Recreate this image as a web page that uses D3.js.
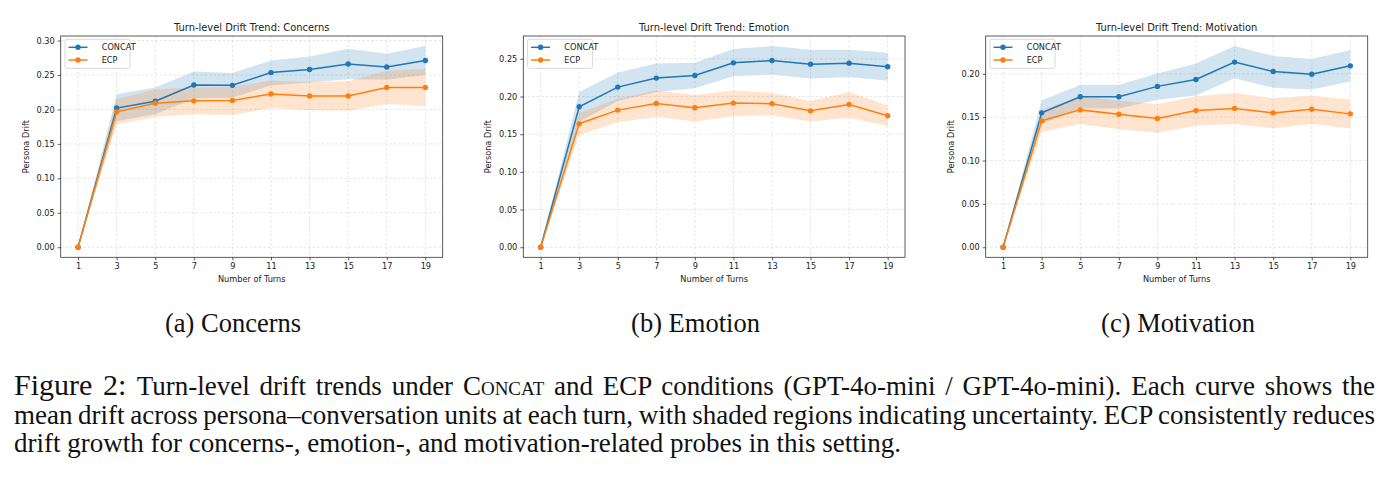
<!DOCTYPE html>
<html>
<head>
<meta charset="utf-8">
<script src="https://cdn.jsdelivr.net/npm/d3@7"></script>
<style>
  html, body { margin: 0; padding: 0; background: #fff; }
  svg { display: block; }
</style>
</head>
<body>
<svg id="chart" width="1392" height="477"></svg>
<script>
// ---------------- DATA ----------------
const turns = [1, 3, 5, 7, 9, 11, 13, 15, 17, 19];
const xTickLabels = ["1", "3", "5", "7", "9", "11", "13", "15", "17", "19"];
const seriesNames = ["CONCAT", "ECP"];
const panelTitles = ["Turn-level Drift Trend: Concerns", "Turn-level Drift Trend: Emotion", "Turn-level Drift Trend: Motivation"];
const subCaptions = ["(a) Concerns", "(b) Emotion", "(c) Motivation"];
const yTickValues = [
  [0, 0.05, 0.10, 0.15, 0.20, 0.25, 0.30],
  [0, 0.05, 0.10, 0.15, 0.20, 0.25],
  [0, 0.05, 0.10, 0.15, 0.20]
];

// Concerns
const concernsConcat     = [0, 0.202, 0.212, 0.2355, 0.235, 0.2535, 0.258, 0.266, 0.2615, 0.271];
const concernsConcatLow  = [0, 0.183, 0.193, 0.216, 0.217, 0.235, 0.239, 0.244, 0.243, 0.250];
const concernsConcatHigh = [0, 0.222, 0.232, 0.255, 0.253, 0.271, 0.277, 0.288, 0.281, 0.292];
const concernsEcp        = [0, 0.1965, 0.209, 0.2125, 0.213, 0.2225, 0.2195, 0.2195, 0.232, 0.232];
const concernsEcpLow     = [0, 0.178, 0.189, 0.193, 0.192, 0.202, 0.199, 0.198, 0.208, 0.205];
const concernsEcpHigh    = [0, 0.215, 0.229, 0.232, 0.233, 0.242, 0.240, 0.241, 0.256, 0.259];

// Emotion
const emotionConcat      = [0, 0.1865, 0.2125, 0.2245, 0.228, 0.2447, 0.2478, 0.243, 0.2443, 0.2395];
const emotionConcatLow   = [0, 0.167, 0.194, 0.206, 0.211, 0.227, 0.229, 0.224, 0.226, 0.221];
const emotionConcatHigh  = [0, 0.206, 0.232, 0.244, 0.245, 0.263, 0.267, 0.262, 0.262, 0.258];
const emotionEcp         = [0, 0.164, 0.182, 0.1908, 0.1852, 0.1913, 0.1905, 0.181, 0.1895, 0.1745];
const emotionEcpLow      = [0, 0.149, 0.166, 0.173, 0.167, 0.174, 0.175, 0.167, 0.172, 0.161];
const emotionEcpHigh     = [0, 0.178, 0.197, 0.208, 0.202, 0.208, 0.205, 0.194, 0.206, 0.188];

// Motivation
const motivationConcat     = [0, 0.155, 0.1735, 0.1735, 0.1855, 0.1935, 0.2135, 0.2027, 0.1996, 0.2092];
const motivationConcatLow  = [0, 0.142, 0.160, 0.160, 0.170, 0.175, 0.195, 0.184, 0.182, 0.191];
const motivationConcatHigh = [0, 0.1696, 0.187, 0.187, 0.2004, 0.212, 0.232, 0.2204, 0.217, 0.2274];
const motivationEcp        = [0, 0.1457, 0.1584, 0.1534, 0.1484, 0.1576, 0.160, 0.1549, 0.1592, 0.1538];
const motivationEcpLow     = [0, 0.133, 0.142, 0.136, 0.132, 0.140, 0.142, 0.137, 0.142, 0.137];
const motivationEcpHigh    = [0, 0.158, 0.174, 0.169, 0.165, 0.174, 0.178, 0.172, 0.175, 0.170];

const captionLines = [
  "Turn-level drift trends under |CONCAT| and ECP conditions (GPT-4o-mini / GPT-4o-mini). Each curve shows the",
  "mean drift across persona–conversation units at each turn, with shaded regions indicating uncertainty. ECP consistently reduces",
  "drift growth for concerns-, emotion-, and motivation-related probes in this setting."
];

// ---------------- LAYOUT ----------------
const panelsData = [
  { mean: [concernsConcat, concernsEcp], low: [concernsConcatLow, concernsEcpLow], high: [concernsConcatHigh, concernsEcpHigh] },
  { mean: [emotionConcat, emotionEcp], low: [emotionConcatLow, emotionEcpLow], high: [emotionConcatHigh, emotionEcpHigh] },
  { mean: [motivationConcat, motivationEcp], low: [motivationConcatLow, motivationEcpLow], high: [motivationConcatHigh, motivationEcpHigh] }
];
const frames = [
  { left: 60.7, right: 442.7 },
  { left: 523.3, right: 905 },
  { left: 985.7, right: 1367.7 }
];
const subCaptionX = [233, 695.5, 1178];
const frameTop = 36, frameBottom = 257.3;
const colors = ["#1f77b4", "#ff7f0e"];
const sans = "'DejaVu Sans', sans-serif";
const serif = "'Liberation Serif', 'Times New Roman', serif";

const svg = d3.select("#chart");

panelsData.forEach((pd, i) => {
  const f = frames[i];
  const maxV = d3.max(pd.high.flat());
  const x = d3.scaleLinear().domain([1 - 0.05 * 18, 19 + 0.05 * 18]).range([f.left, f.right]);
  const y = d3.scaleLinear().domain([-0.05 * maxV, 1.05 * maxV]).range([frameBottom, frameTop]);
  const g = svg.append("g");

  // grid
  const grid = g.append("g").attr("stroke", "#b0b0b0").attr("stroke-opacity", 0.45)
    .attr("stroke-width", 0.7).attr("stroke-dasharray", "2.5,2");
  grid.selectAll(".gx").data(turns).join("line")
    .attr("x1", d => x(d)).attr("x2", d => x(d)).attr("y1", frameTop).attr("y2", frameBottom);
  grid.selectAll(".gy").data(yTickValues[i]).join("line")
    .attr("y1", d => y(d)).attr("y2", d => y(d)).attr("x1", f.left).attr("x2", f.right);

  // bands
  [0, 1].forEach(s => {
    const area = d3.area().x((d, k) => x(turns[k])).y0((d, k) => y(pd.low[s][k])).y1((d, k) => y(pd.high[s][k]));
    g.append("path").datum(pd.mean[s]).attr("d", area).attr("fill", colors[s]).attr("fill-opacity", 0.2);
  });
  // lines + markers
  [0, 1].forEach(s => {
    const line = d3.line().x((d, k) => x(turns[k])).y(d => y(d));
    g.append("path").datum(pd.mean[s]).attr("d", line).attr("fill", "none")
      .attr("stroke", colors[s]).attr("stroke-width", 1.5);
    g.selectAll(".m" + s).data(pd.mean[s]).join("circle")
      .attr("cx", (d, k) => x(turns[k])).attr("cy", d => y(d)).attr("r", 2.7).attr("fill", colors[s]);
  });

  // frame
  g.append("rect").attr("x", f.left).attr("y", frameTop).attr("width", f.right - f.left)
    .attr("height", frameBottom - frameTop).attr("fill", "none").attr("stroke", "#333").attr("stroke-width", 0.8);

  // axes
  const xAxis = d3.axisBottom(x).tickValues(turns).tickFormat((d, k) => xTickLabels[k]).tickSize(3).tickPadding(2.5);
  const xa = g.append("g").attr("transform", `translate(0,${frameBottom})`).call(xAxis);
  const yAxis = d3.axisLeft(y).tickValues(yTickValues[i]).tickFormat(d3.format(".2f")).tickSize(3).tickPadding(3);
  const ya = g.append("g").attr("transform", `translate(${f.left},0)`).call(yAxis);
  [xa, ya].forEach(a => {
    a.select(".domain").remove();
    a.selectAll(".tick line").attr("stroke", "#333").attr("stroke-width", 0.8);
    a.selectAll(".tick text").attr("font-family", sans).attr("font-size", 8.2).attr("fill", "#222");
  });

  // labels
  g.append("text").attr("x", (f.left + f.right) / 2).attr("y", 30.5).attr("text-anchor", "middle")
    .attr("font-family", sans).attr("font-size", 9.9).attr("fill", "#222").text(panelTitles[i]);
  g.append("text").attr("x", (f.left + f.right) / 2).attr("y", 282).attr("text-anchor", "middle")
    .attr("font-family", sans).attr("font-size", 8.2).attr("fill", "#222").text("Number of Turns");
  g.append("text").attr("transform", `translate(${f.left - 32},${(frameTop + frameBottom) / 2}) rotate(-90)`)
    .attr("text-anchor", "middle").attr("font-family", sans).attr("font-size", 8.2).attr("fill", "#222").text("Persona Drift");

  // legend
  const lg = g.append("g").attr("transform", `translate(${f.left + 4.3},${frameTop + 3.3})`);
  lg.append("rect").attr("width", 65).attr("height", 29).attr("rx", 2).attr("fill", "#fff")
    .attr("fill-opacity", 0.85).attr("stroke", "#d0d0d0").attr("stroke-width", 0.8);
  seriesNames.forEach((nm, s) => {
    const yy = 8 + s * 12.7;
    lg.append("line").attr("x1", 3.5).attr("x2", 22.5).attr("y1", yy).attr("y2", yy)
      .attr("stroke", colors[s]).attr("stroke-width", 1.5);
    lg.append("circle").attr("cx", 13).attr("cy", yy).attr("r", 2.7).attr("fill", colors[s]);
    lg.append("text").attr("x", 36.7).attr("y", yy + 3).attr("font-family", sans).attr("font-size", 8.2)
      .attr("fill", "#222").text(nm);
  });

  // subcaption
  svg.append("text").attr("x", subCaptionX[i]).attr("y", 331.5).attr("text-anchor", "middle")
    .attr("font-family", serif).attr("font-size", 26.5).attr("fill", "#111").text(subCaptions[i]);
});

// ---------------- CAPTION ----------------
const capLeft = 14, capRight = 1375;
const baselines = [395, 423.5, 452];
captionLines.forEach((ln, li) => {
  const t = svg.append("text").attr("x", capLeft).attr("y", baselines[li])
    .attr("font-family", serif).attr("font-size", 27).attr("fill", "#111");
  if (li === 0) {
    t.append("tspan").attr("font-size", 30).text("Figure 2: ");
  }
  ln.split("|").forEach((part, pi) => {
    const sp = t.append("tspan").text(pi === 1 ? "Concat" : part);
    if (pi === 1) sp.style("font-variant", "small-caps");
  });
  if (li < 2) {
    const w = t.node().getComputedTextLength();
    const full = t.text();
    const nSpaces = (full.match(/ /g) || []).length;
    t.attr("word-spacing", (capRight - capLeft - w) / nSpaces);
  }
});
</script>
</body>
</html>
